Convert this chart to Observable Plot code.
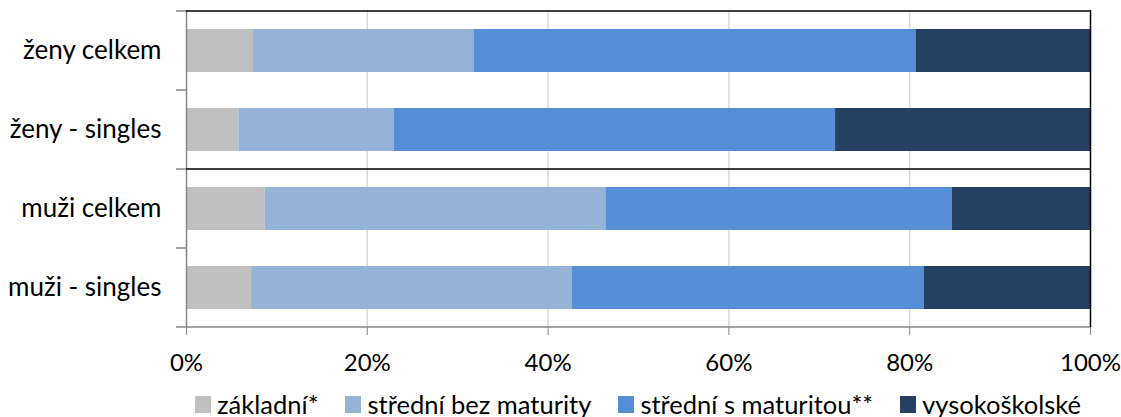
<!DOCTYPE html>
<html>
<head>
<meta charset="utf-8">
<script src="https://cdn.jsdelivr.net/npm/d3@7"></script>
<script src="https://cdn.jsdelivr.net/npm/@observablehq/plot@0.6"></script>
<style>
  body { margin: 0; background: #fff; font-family: Lato, "Liberation Sans", sans-serif; }
  #chart svg { display: block; }
  .legend { display: flex; justify-content: center; align-items: center; gap: 27px;
            margin-left: 186px; width: 904px; height: 25px; font-size: 25.5px; color: #000; line-height: 25px; }
  .legend .item { display: flex; align-items: center; gap: 6px; white-space: nowrap; }
  .legend .sw { width: 16px; height: 17px; display: inline-block; }
</style>
</head>
<body>
<div id="chart"></div>
<script>
const categories = ["ženy celkem", "ženy - singles", "muži celkem", "muži - singles"];
const levels = ["základní*", "střední bez maturity", "střední s maturitou**", "vysokoškolské"];
const colors = ["#bfbfbf", "#95b3d7", "#558ed5", "#254061"];
const zakladni   = [7.4, 5.8, 8.7, 7.2];
const stredniBez = [24.4, 17.2, 37.7, 35.5];
const stredniS   = [48.9, 48.8, 38.3, 38.9];
const vysoko     = [19.3, 28.2, 15.3, 18.4];
const xTicks = [0, 20, 40, 60, 80, 100];
const tickLabels = ["0%", "20%", "40%", "60%", "80%", "100%"];

const series = [zakladni, stredniBez, stredniS, vysoko];
const data = [];
categories.forEach((c, i) => {
  levels.forEach((l, j) => data.push({cat: c, level: l, value: series[j][i]}));
});

const plot = Plot.plot({
  width: 1121,
  height: 392,
  marginLeft: 186,
  marginRight: 31,
  marginTop: 10,
  marginBottom: 65,
  style: {fontFamily: "Lato, 'Liberation Sans', sans-serif", fontSize: "26px", color: "#000", background: "#fff"},
  x: {domain: [0, 100], label: null},
  y: {domain: categories, paddingInner: 0.457, paddingOuter: 0.2285, label: null},
  color: {domain: levels, range: colors},
  marks: [
    Plot.ruleX([20, 40, 60, 80], {stroke: "#d9d9d9", strokeWidth: 1.5}),
    Plot.barX(data, {x: "value", y: "cat", fill: "level"}),
    Plot.ruleX([0], {stroke: "#868686", strokeWidth: 1.5}),
    Plot.ruleX([100], {stroke: "#000", strokeWidth: 1.5}),
    Plot.axisX({ticks: xTicks, tickFormat: (d) => tickLabels[xTicks.indexOf(d)], tickSize: 8, tickPadding: 18, stroke: "#868686", fontSize: 24}),
    Plot.axisY({tickSize: 0, tickPadding: 25, fontSize: 26})
  ]
});

// band boundaries, drawn from the library's scales
const y = plot.scale("y");
const x = plot.scale("x");
const x0 = x.apply(0), x1 = x.apply(100);
const off = (y.step - y.bandwidth) / 2;
const bounds = categories.map(c => y.apply(c) - off);
bounds.push(y.apply(categories[categories.length - 1]) - off + y.step);
const svg = d3.select(plot);
const g = svg.append("g");
g.selectAll("line.yt").data(bounds).join("line")
  .attr("x1", x0 - 10).attr("x2", x0).attr("y1", d => d).attr("y2", d => d)
  .attr("stroke", "#868686").attr("stroke-width", 1.5);
g.append("line").attr("x1", x0).attr("x2", x1).attr("y1", bounds[0]).attr("y2", bounds[0])
  .attr("stroke", "#000").attr("stroke-width", 1.5);
g.append("line").attr("x1", x0).attr("x2", x1).attr("y1", bounds[2]).attr("y2", bounds[2])
  .attr("stroke", "#000").attr("stroke-width", 1.5);
g.append("line").attr("x1", x0).attr("x2", x1).attr("y1", bounds[4]).attr("y2", bounds[4])
  .attr("stroke", "#868686").attr("stroke-width", 1.5);

document.getElementById("chart").appendChild(plot);

const legend = document.createElement("div");
legend.className = "legend";
levels.forEach((l, i) => {
  const item = document.createElement("span");
  item.className = "item";
  const sw = document.createElement("span");
  sw.className = "sw";
  sw.style.background = colors[i];
  const t = document.createElement("span");
  t.textContent = l;
  item.appendChild(sw); item.appendChild(t);
  legend.appendChild(item);
});
document.getElementById("chart").appendChild(legend);
</script>
</body>
</html>
